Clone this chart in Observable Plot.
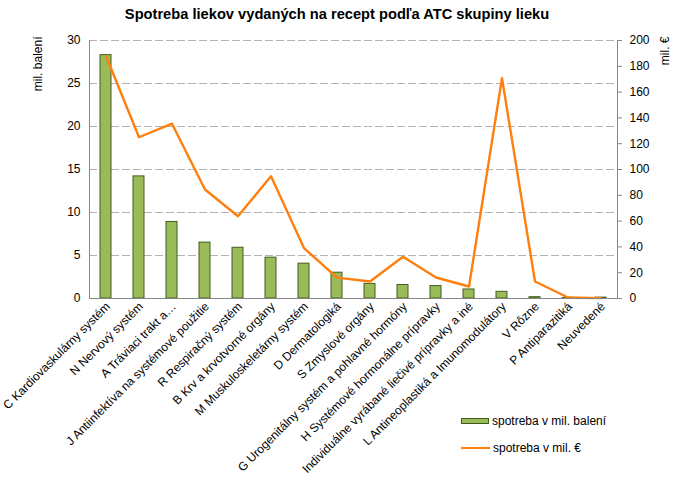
<!DOCTYPE html>
<html>
<head>
<meta charset="utf-8">
<script src="https://cdn.jsdelivr.net/npm/d3@7"></script>
<script src="https://cdn.jsdelivr.net/npm/@observablehq/plot@0.6"></script>
<style>
  html, body { margin: 0; padding: 0; background: #fff; }
  body { width: 674px; height: 484px; position: relative; overflow: hidden;
         font-family: "Liberation Sans", Arial, sans-serif; color: #000; }
  #title { position: absolute; left: 0; top: 5px; width: 674px; text-align: center;
           font-size: 14.67px; font-weight: bold; line-height: 18px; }
  #chart { position: absolute; left: 0; top: 0; }
  .legend { position: absolute; left: 461px; font-size: 12px; line-height: 14px;
            display: flex; align-items: center; }
  .sw-bar { width: 26px; height: 4px; background: #9bbb59; border: 1px solid #3f5f1f; margin-right: 3px; }
  .sw-line { width: 29px; height: 0; border-top: 2.5px solid #ff7f0e; margin-right: 3px; }
</style>
</head>
<body>
<div id="title">Spotreba liekov vydaných na recept podľa ATC skupiny lieku</div>
<div id="chart"></div>
<div class="legend" style="top:414px"><div class="sw-bar"></div><span>spotreba v mil. balení</span></div>
<div class="legend" style="top:441px"><div class="sw-line"></div><span>spotreba v mil. €</span></div>
<script>
const categories = [
  "C Kardiovaskulárny systém",
  "N Nervový systém",
  "A Tráviaci trakt a…",
  "J Antiinfektíva na systémové použitie",
  "R Respiračný systém",
  "B Krv a krvotvorné orgány",
  "M Muskuloskeletárny systém",
  "D Dermatologiká",
  "S Zmyslové orgány",
  "G Urogenitálny systém a pohlavné hormóny",
  "H Systémové hormonálne prípravky",
  "Individuálne vyrábané liečivé prípravky a iné",
  "L Antineoplastiká a Imunomodulátory",
  "V Rôzne",
  "P Antiparazitiká",
  "Neuvedené"
];
const packs = [28.3, 14.2, 8.9, 6.5, 5.9, 4.75, 4.05, 3.0, 1.7, 1.57, 1.45, 1.05, 0.78, 0.15, 0.05, 0.1];
const euros = [188, 125, 135.5, 84.5, 63.8, 94.7, 39.1, 16.2, 13.2, 32.4, 16.3, 9.3, 170.8, 13.2, 0.8, 0.3];
const leftTicks = [0, 5, 10, 15, 20, 25, 30];
const rightTicks = [0, 20, 40, 60, 80, 100, 120, 140, 160, 180, 200];

const leftMax = leftTicks[leftTicks.length - 1];
const rightMax = rightTicks[rightTicks.length - 1];
const toLeft = v => v * leftMax / rightMax;

const rows = categories.map((c, i) => ({cat: c, packs: packs[i], euro: euros[i], euroL: toLeft(euros[i])}));

const axisColor = "#868686";
const chart = Plot.plot({
  width: 674,
  height: 484,
  marginTop: 40,
  marginBottom: 186,
  marginLeft: 89,
  marginRight: 57,
  style: {fontFamily: "'Liberation Sans', Arial, sans-serif", fontSize: "12px", color: "#000", background: "transparent"},
  x: {domain: categories, paddingInner: 0.67, paddingOuter: 0.335},
  y: {domain: [0, leftMax]},
  marks: [
    Plot.gridY(leftTicks.filter(d => d > 0), {stroke: "#b4b4b4", strokeOpacity: 1, strokeDasharray: "8,3"}),
    Plot.barY(rows, {x: "cat", y: "packs", fill: "#9bbb59", stroke: "#3f5f1f", strokeWidth: 1}),
    Plot.line(rows, {x: "cat", y: "euroL", stroke: "#ff7f0e", strokeWidth: 2.4}),
    Plot.frame({anchor: "left", stroke: axisColor}),
    Plot.frame({anchor: "right", stroke: axisColor}),
    Plot.frame({anchor: "bottom", stroke: axisColor}),
    Plot.axisY({anchor: "left", ticks: leftTicks, tickSize: 0, tickPadding: 9, label: null, fontSize: 12}),
    Plot.axisY({anchor: "right", ticks: rightTicks.map(toLeft), tickFormat: d => Math.round(d * rightMax / leftMax), tickSize: 4, tickPadding: 8, stroke: axisColor, label: null, fontSize: 12}),
    Plot.axisX({anchor: "bottom", tickRotate: -45, tickSize: 0, tickPadding: 6, dx: 2, label: null, fontSize: 12}),
    Plot.text(["mil. balení"], {frameAnchor: "top-left", dx: -51, dy: -4, rotate: -90, textAnchor: "end", lineAnchor: "middle", fontSize: 12}),
    Plot.text(["mil. €"], {frameAnchor: "top-right", dx: 48, dy: -4, rotate: -90, textAnchor: "end", lineAnchor: "middle", fontSize: 12})
  ]
});
document.getElementById("chart").appendChild(chart);
</script>
</body>
</html>
